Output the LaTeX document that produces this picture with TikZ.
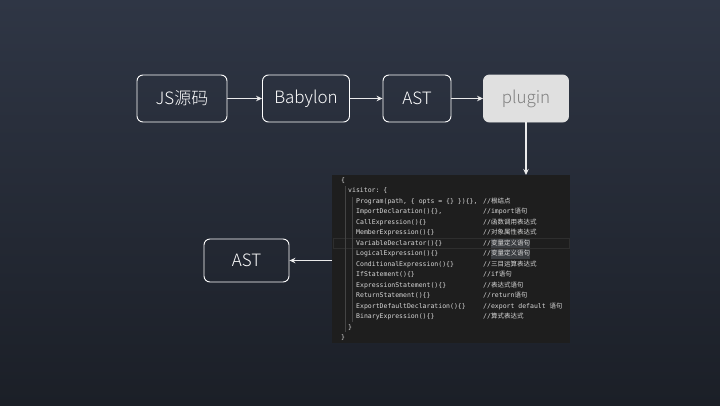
\documentclass[tikz,border=0pt]{standalone}
\usepackage{fontspec}
\setmainfont{Noto Sans CJK SC Light}
\setmonofont{DejaVu Sans Mono}
\newfontfamily\cjkfont{Noto Sans CJK SC}
\usepackage{xcolor}
\definecolor{bgtop}{HTML}{2F3645}
\definecolor{bgbot}{HTML}{1B1F27}
\definecolor{codebg}{HTML}{1E1E1E}
\definecolor{codefg}{HTML}{D8D8D8}
\definecolor{guide}{HTML}{444444}
\definecolor{curline}{HTML}{2E2E2E}
\definecolor{selbg}{HTML}{3A3D41}
\definecolor{pluginfill}{HTML}{E0E0E0}
\definecolor{plugintext}{HTML}{7F7F7F}
\definecolor{linkcol}{HTML}{EBEBEB}
\usepackage{tikz}
\usetikzlibrary{arrows.meta,positioning}

\newcommand{\zh}[1]{{\cjkfont #1}}

\tikzset{
  stage/.style={draw=white, line width=0.9pt, rounded corners=6pt, text=white,
    font=\fontsize{17}{20}\selectfont, inner sep=0pt, minimum height=47pt},
  link/.style={draw=linkcol, line width=1.8pt, -{Stealth[length=6pt,width=5.5pt]}},
  codeline/.style={anchor=base west, inner sep=0pt, text=codefg,
    font=\ttfamily\fontsize{6.5}{7}\selectfont},
}

\begin{document}
\begin{tikzpicture}[x=1pt, y=-1pt]
    \useasboundingbox (0,0) rectangle (720,405);
    \shade[top color=bgtop, bottom color=bgbot] (0,0) rectangle (720,405);

    % pipeline
    \node[stage, minimum width=90pt] (src) at (182,98.5) {JS源码};
    \node[stage, minimum width=87pt] (babylon) at (306,98.5) {Babylon};
    \node[stage, minimum width=68pt] (ast) at (417,98.5) {AST};
    \node[stage, minimum width=85pt, draw=pluginfill, fill=pluginfill, text=plugintext] (plugin) at (526,98.5) {plugin};

    % visitor code
    \node[fill=codebg, inner sep=0pt, minimum width=238pt, minimum height=168pt, anchor=north west] (code) at (332,175) {};
    \draw[curline, line width=0.6pt] (333,238) rectangle (569,248.5);
    \fill[selbg] (490.5,238.5) rectangle (530,248);
    \fill[selbg] (490.5,249) rectangle (530,258.5);
    \draw[guide, line width=0.5pt] (345.5,186) -- (345.5,332);
    \draw[guide, line width=0.5pt] (352.5,197) -- (352.5,322);

    \node[codeline] (c0) at (341,182.3) {\{};
    \node[codeline] (c1) at (348,192.8) {visitor: \{};
    \node[codeline] (c2) at (356,203.3) {Program(path, \{ opts = \{\} \})\{\},};
    \node[codeline] (c3) at (356,213.8) {ImportDeclaration()\{\},};
    \node[codeline] (c4) at (356,224.3) {CallExpression()\{\}};
    \node[codeline] (c5) at (356,234.8) {MemberExpression()\{\}};
    \node[codeline] (c6) at (356,245.3) {VariableDeclarator()\{\}};
    \node[codeline] (c7) at (356,255.8) {LogicalExpression()\{\}};
    \node[codeline] (c8) at (356,266.3) {ConditionalExpression()\{\}};
    \node[codeline] (c9) at (356,276.8) {IfStatement()\{\}};
    \node[codeline] (c10) at (356,287.3) {ExpressionStatement()\{\}};
    \node[codeline] (c11) at (356,297.8) {ReturnStatement()\{\}};
    \node[codeline] (c12) at (356,308.3) {ExportDefaultDeclaration()\{\}};
    \node[codeline] (c13) at (356,318.8) {BinaryExpression()\{\}};
    \node[codeline] (c14) at (348,329.3) {\}};
    \node[codeline] (c15) at (341,339.8) {\}};

    % comments
    \node[codeline] (m2) at (483,203.3) {//\zh{根结点}};
    \node[codeline] (m3) at (483,213.8) {//import\zh{语句}};
    \node[codeline] (m4) at (483,224.3) {//\zh{函数调用表达式}};
    \node[codeline] (m5) at (483,234.8) {//\zh{对象属性表达式}};
    \node[codeline] (m6) at (483,245.3) {//\zh{变量定义语句}};
    \node[codeline] (m7) at (483,255.8) {//\zh{变量定义语句}};
    \node[codeline] (m8) at (483,266.3) {//\zh{三目运算表达式}};
    \node[codeline] (m9) at (483,276.8) {//if\zh{语句}};
    \node[codeline] (m10) at (483,287.3) {//\zh{表达式语句}};
    \node[codeline] (m11) at (483,297.8) {//return\zh{语句}};
    \node[codeline] (m12) at (483,308.3) {//export default \zh{语句}};
    \node[codeline] (m13) at (483,318.8) {//\zh{算式表达式}};

    \node[stage, minimum width=85pt, minimum height=43pt] (astout) at (246.5,260.5) {AST};

    % arrows
    \draw[link] (src) -- (babylon);
    \draw[link] (babylon) -- (ast);
    \draw[link] (ast) -- (plugin);
    \draw[link] (plugin) -- (plugin |- code.north);
    \draw[link] (code.west |- astout) -- (astout);
\end{tikzpicture}
\end{document}
